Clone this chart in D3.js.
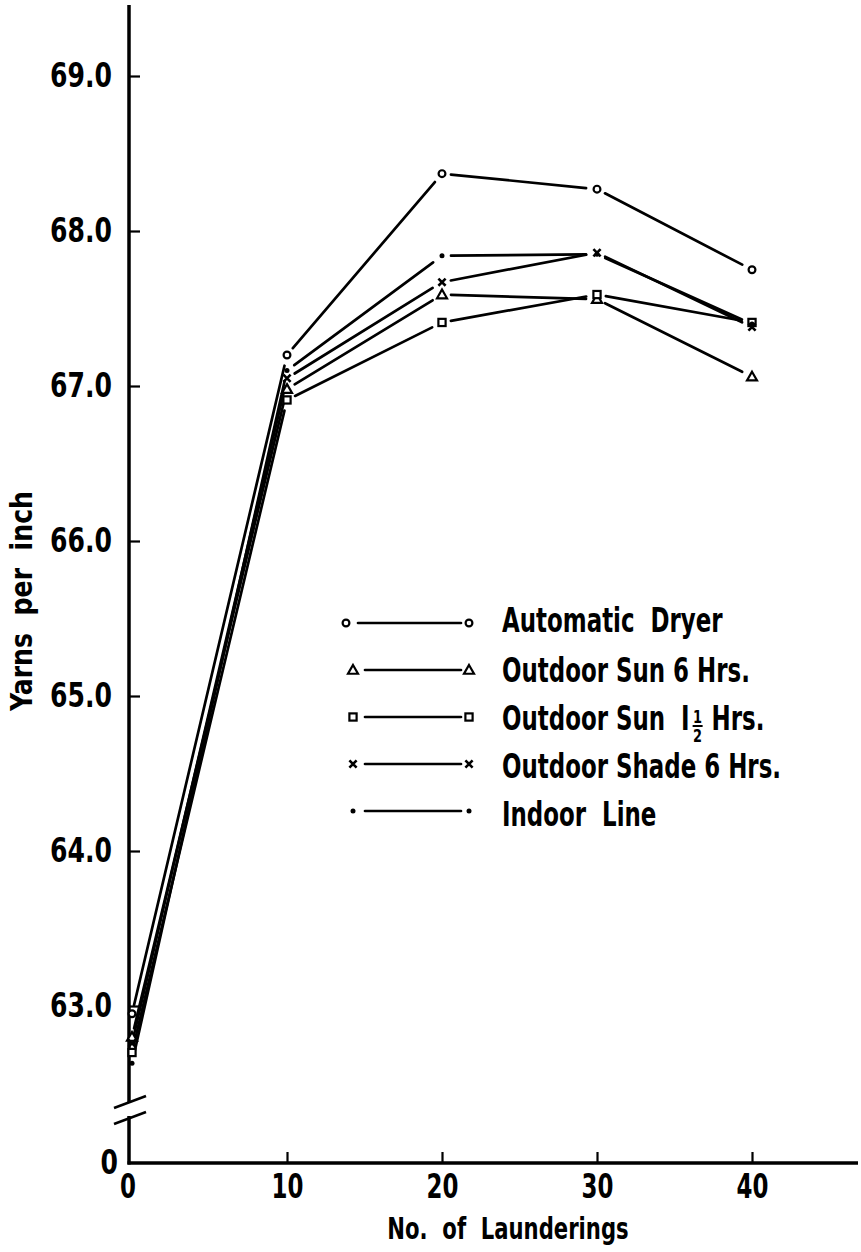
<!DOCTYPE html>
<html>
<head>
<meta charset="utf-8">
<script src="https://cdn.jsdelivr.net/npm/d3@7"></script>
<style>
html,body{margin:0;padding:0;background:#fff;}
svg{display:block;}
text{font-family:"DejaVu Sans",sans-serif;font-stretch:condensed;font-weight:bold;fill:#000;}
</style>
</head>
<body>
<svg id="chart" width="861" height="1252"></svg>
<script>
// ---- data ----
const launderings = [0, 10, 20, 30, 40];
const xTickLabels = ["0", "10", "20", "30", "40"];
const yTickValues = [63, 64, 65, 66, 67, 68, 69];
const yTickLabels = ["63.0", "64.0", "65.0", "66.0", "67.0", "68.0", "69.0"];
const seriesNames = ["Automatic  Dryer", "Outdoor Sun 6 Hrs.", "Outdoor Sun 1\u00BD Hrs.", "Outdoor Shade 6 Hrs.", "Indoor  Line"];
const seriesSymbols = ["circle", "triangle", "square", "cross", "dot"];
const automaticDryer = [62.95, 67.20, 68.37, 68.27, 67.75];
const outdoorSun6 = [62.80, 66.98, 67.59, 67.56, 67.06];
const outdoorSun15 = [62.70, 66.91, 67.41, 67.59, 67.41];
const outdoorShade6 = [62.76, 67.05, 67.67, 67.86, 67.38];
const indoorLine = [62.63, 67.10, 67.84, 67.85, 67.40];
const seriesValues = [automaticDryer, outdoorSun6, outdoorSun15, outdoorShade6, indoorLine];

// ---- layout ----
const svg = d3.select("#chart");
const axisX = 129, axisBottom = 1163, axisTop = 5, axisRight = 858;
const x = d3.scaleLinear().domain([0, 40]).range([132, 752]);
const y = d3.scaleLinear().domain([63, 69]).range([1006, 76]);
const SY = 1.1; // vertical stretch of lettering

// Y axis line with break
const breakTop = 1103, breakBot = 1116;
svg.append("line").attr("x1", axisX).attr("x2", axisX).attr("y1", axisTop).attr("y2", breakTop)
  .attr("stroke", "#000").attr("stroke-width", 3.5);
svg.append("line").attr("x1", axisX).attr("x2", axisX).attr("y1", breakBot).attr("y2", axisBottom + 1.5)
  .attr("stroke", "#000").attr("stroke-width", 3.5);
// break slashes
[1102, 1118].forEach((cy) => {
  svg.append("line").attr("x1", axisX - 15).attr("y1", cy + 6).attr("x2", axisX + 17).attr("y2", cy - 6)
    .attr("stroke", "#000").attr("stroke-width", 2.5);
});
// X axis line
svg.append("line").attr("x1", axisX - 1.5).attr("x2", axisRight).attr("y1", axisBottom).attr("y2", axisBottom)
  .attr("stroke", "#000").attr("stroke-width", 3.5);

function stretchedText(parent, tx, ty, str, size, anchor, sx) {
  return parent.append("text")
    .attr("transform", `translate(${tx},${ty}) scale(${sx || 1},${SY})`)
    .attr("text-anchor", anchor || "start")
    .style("font-size", size + "px").style("white-space", "pre").text(str);
}

// Y ticks
const yAxis = d3.axisLeft(y).tickValues(yTickValues)
  .tickFormat((d, i) => yTickLabels[i]).tickSizeInner(-11).tickSizeOuter(0).tickPadding(0);
const gy = svg.append("g").attr("transform", `translate(${axisX},0)`).call(yAxis);
gy.select(".domain").remove();
gy.selectAll(".tick line").attr("stroke", "#000").attr("stroke-width", 2.2);
gy.selectAll(".tick text").style("font-size", "30px").style("font-family", null)
  .attr("fill", "#000").attr("x", 0).attr("dy", "0.33em").attr("transform", `translate(-17,0) scale(0.93,${SY})`);
// y "0" label at baseline
stretchedText(svg, axisX - 11, axisBottom + 11, "0", 30, "end", 0.93);

// X ticks
const xAxis = d3.axisBottom(x).tickValues(launderings.slice(1))
  .tickFormat((d) => xTickLabels[launderings.indexOf(d)]).tickSizeInner(-11).tickSizeOuter(0).tickPadding(0);
const gx = svg.append("g").attr("transform", `translate(0,${axisBottom})`).call(xAxis);
gx.select(".domain").remove();
gx.selectAll(".tick line").attr("stroke", "#000").attr("stroke-width", 2.2);
gx.selectAll(".tick text").style("font-size", "30px").style("font-family", null).attr("fill", "#000")
  .attr("y", 0).attr("dy", 0).attr("transform", `translate(0,35) scale(0.85,${SY})`);
stretchedText(svg, x(0) - 4, axisBottom + 35, xTickLabels[0], 30, "middle", 0.85);

// Axis titles
stretchedText(svg, 508, 1239, "No.  of  Launderings", 28, "middle", 0.84);
svg.append("text").attr("transform", "translate(32,601) rotate(-90) scale(1,1.1)").attr("text-anchor", "middle")
  .style("font-size", "28px").style("white-space", "pre").text("Yarns  per  inch");

// ---- markers ----
function drawMarker(g, type, cx, cy) {
  if (type === "circle") {
    g.append("circle").attr("cx", cx).attr("cy", cy).attr("r", 3.4)
      .attr("fill", "#fff").attr("stroke", "#000").attr("stroke-width", 2.2);
  } else if (type === "triangle") {
    const s = 5;
    g.append("path").attr("d", `M${cx},${cy - s}L${cx + s},${cy + s * 0.75}L${cx - s},${cy + s * 0.75}Z`)
      .attr("fill", "#fff").attr("stroke", "#000").attr("stroke-width", 2.2);
  } else if (type === "square") {
    g.append("rect").attr("x", cx - 3.6).attr("y", cy - 3.6).attr("width", 7.2).attr("height", 7.2)
      .attr("fill", "#fff").attr("stroke", "#000").attr("stroke-width", 2.2);
  } else if (type === "cross") {
    const s = 3.6;
    g.append("path").attr("d", `M${cx - s},${cy - s}L${cx + s},${cy + s}M${cx + s},${cy - s}L${cx - s},${cy + s}`)
      .attr("stroke", "#000").attr("stroke-width", 2.6);
  } else {
    g.append("circle").attr("cx", cx).attr("cy", cy).attr("r", 2.5).attr("fill", "#000");
  }
}

// segment shortened at both ends (gap around markers)
function gapSegment(g, x1, y1, x2, y2, gap1, gap2) {
  const dx = x2 - x1, dy = y2 - y1, L = Math.hypot(dx, dy);
  const ux = dx / L, uy = dy / L;
  g.append("line")
    .attr("x1", x1 + ux * gap1).attr("y1", y1 + uy * gap1)
    .attr("x2", x2 - ux * gap2).attr("y2", y2 - uy * gap2)
    .attr("stroke", "#000").attr("stroke-width", 2.7).attr("stroke-linecap", "round");
}

const plot = svg.append("g");
seriesValues.forEach((vals) => {
  const g = plot.append("g");
  for (let i = 0; i < vals.length - 1; i++) {
    gapSegment(g, x(launderings[i]), y(vals[i]), x(launderings[i + 1]), y(vals[i + 1]), 9, 11);
  }
});
seriesValues.forEach((vals, si) => {
  const g = plot.append("g");
  vals.forEach((v, i) => drawMarker(g, seriesSymbols[si], x(launderings[i]), y(v)));
});

// ---- legend ----
const LSX = 0.85;
const legendMarkerYs = [623, 670, 717, 764, 811];
const legendTextYs = [632, 682, 730, 778, 826];
const legend = svg.append("g");
seriesNames.forEach((name, i) => {
  const ly = legendMarkerYs[i], ty = legendTextYs[i];
  const g = legend.append("g");
  const lx1 = i === 0 ? 346 : 353;
  drawMarker(g, seriesSymbols[i], lx1, ly);
  drawMarker(g, seriesSymbols[i], 469, ly);
  gapSegment(g, lx1, ly, 469, ly, 12, 8);
  if (i === 2) {
    const t1 = stretchedText(g, 502, ty, "Outdoor Sun  I", 30, "start", LSX);
    const w = t1.node().getComputedTextLength() * LSX;
    const fx = 502 + w + 8;
    g.append("text").attr("transform", `translate(${fx},${ty - 7}) scale(0.9,1.1)`).attr("text-anchor", "middle")
      .style("font-size", "16px").text("1");
    g.append("line").attr("x1", fx - 5).attr("x2", fx + 5).attr("y1", ty - 4).attr("y2", ty - 4)
      .attr("stroke", "#000").attr("stroke-width", 2);
    g.append("text").attr("transform", `translate(${fx},${ty + 12}) scale(0.9,1.1)`).attr("text-anchor", "middle")
      .style("font-size", "16px").text("2");
    stretchedText(g, fx + 14, ty, "Hrs.", 30, "start", LSX);
  } else {
    stretchedText(g, 502, ty, name, 30, "start", LSX);
  }
});
</script>
</body>
</html>
